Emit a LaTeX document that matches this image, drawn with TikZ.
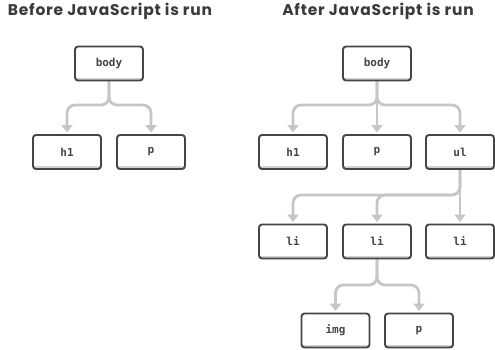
\documentclass[tikz,border=0pt]{standalone}
\usepackage{fontspec}
\setmainfont{Poppins}
\newfontfamily\labelfont{DejaVu Sans Mono}
\newfontfamily\headfont[LetterSpace=5]{Poppins}
\usetikzlibrary{arrows.meta,backgrounds}
\definecolor{boxline}{HTML}{454545}
\definecolor{boxshade}{HTML}{D2D2D2}
\definecolor{linkgray}{HTML}{C6C6C6}
\definecolor{titlegray}{HTML}{3A3A3A}
\tikzset{
  domnode/.style={draw=boxline, line width=1.9pt, rounded corners=3pt, fill=white,
    minimum width=68pt, minimum height=34pt, inner sep=0pt,
    font=\labelfont\bfseries\fontsize{11}{12}\selectfont, text=boxline,
    path picture={\draw[boxshade, line width=2pt]
      ([xshift=1pt,yshift=2pt]path picture bounding box.south west) --
      ([xshift=-1pt,yshift=2pt]path picture bounding box.south east);}},
  link/.style={draw=linkgray, line width=2.8pt, rounded corners=8pt,
    -{Triangle[width=11pt,length=7.5pt]}, shorten >=1.5pt},
  heading/.style={font=\headfont\bfseries\fontsize{15.5}{18}\selectfont, text=titlegray}
}
\begin{document}
\begin{tikzpicture}[x=1pt, y=-1pt]
  \useasboundingbox (0,0) rectangle (495,349);

  % headings
  \node[heading] (tleft)  at (110,11) {Before JavaScript is run};
  \node[heading] (tright) at (378,11) {After JavaScript is run};

  % ---------- tree before the script ----------
  \node[domnode] (bodyA) at (109,63.5) {body};
  \node[domnode] (h1A)   at (67,152)   {h1};
  \node[domnode] (pA)    at (151,152)  {p};

  % ---------- tree after the script ----------
  \node[domnode] (bodyB) at (377,63.5) {body};
  \node[domnode] (h1B)   at (293,152)  {h1};
  \node[domnode] (pB)    at (377,152)  {p};
  \node[domnode] (ulB)   at (460,152)  {ul};
  \node[domnode] (li1)   at (293,241.5) {li};
  \node[domnode] (li2)   at (377,241.5) {li};
  \node[domnode] (li3)   at (460,241.5) {li};
  \node[domnode] (imgB)  at (335.5,330.5) {img};
  \node[domnode] (p2B)   at (419,330.5) {p};

  % branching points of the links
  \coordinate (ja) at (109,105);
  \coordinate (jb) at (377,105);
  \coordinate (jc) at (460,195);
  \coordinate (jd) at (377,285);

  \begin{scope}[on background layer]
    % body -> h1, p (before)
    \draw[link] (bodyA.south) -- (ja) -| (h1A.north);
    \draw[link] (bodyA.south) -- (ja) -| (pA.north);

    % body -> h1, p, ul (after)
    \draw[link] (bodyB.south) -- (jb) -| (h1B.north);
    \draw[link] (bodyB.south) -- (jb) -| (ulB.north);
    \draw[link] (bodyB.south) -- (pB.north);

    % ul -> li, li, li
    \draw[link] (ulB.south) -- (jc) -| (li1.north);
    \draw[link] (ulB.south) -- (jc) -| (li2.north);
    \draw[link] (ulB.south) -- (li3.north);

    % li -> img, p
    \draw[link] (li2.south) -- (jd) -| (imgB.north);
    \draw[link] (li2.south) -- (jd) -| (p2B.north);
  \end{scope}
\end{tikzpicture}
\end{document}
